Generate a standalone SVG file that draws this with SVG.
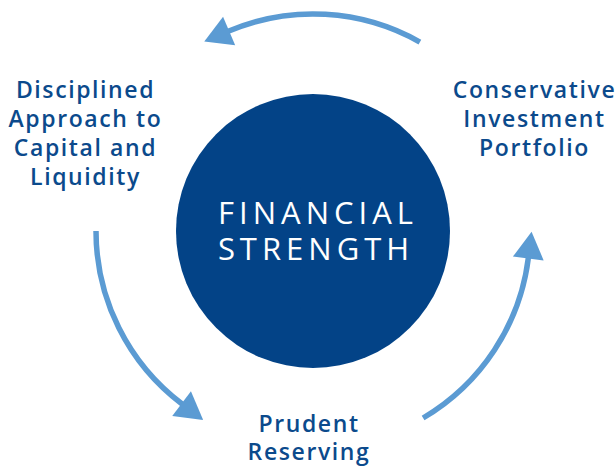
<svg xmlns="http://www.w3.org/2000/svg" width="615" height="466" viewBox="0 0 615 466">
<style>
.lbl{font-family:"Open Sans","Liberation Sans",sans-serif;font-size:23px;font-weight:600;fill:#0b4a8c;text-anchor:middle;letter-spacing:1.6px}
.ctr{font-family:"Open Sans","Liberation Sans",sans-serif;font-size:31px;font-weight:400;fill:#ffffff;text-anchor:middle;letter-spacing:5px}
.arc{fill:none;stroke:#5b9bd3;stroke-width:5.5}
</style>
<defs>
<marker id="head" markerUnits="userSpaceOnUse" markerWidth="30" markerHeight="32" refX="1" refY="15.5" orient="auto" overflow="visible">
<path d="M0,0 L27,15.5 L0,31 Z" fill="#5b9bd3"/>
</marker>
</defs>
<rect width="615" height="466" fill="#ffffff"/>
<g id="connectors">
<path class="arc" d="M423.1,418 A217,217 0 0 0 528.4,257.5" marker-end="url(#head)"/>
<path class="arc" d="M419.9,42.1 A217,217 0 0 0 228.2,31.3" marker-end="url(#head)"/>
<path class="arc" d="M96,231 A217,217 0 0 0 182.4,404.3" marker-end="url(#head)"/>
</g>
<g id="center">
<circle cx="313" cy="231" r="137" fill="#034387"/>
<text class="ctr" x="318" y="224">FINANCIAL</text>
<text class="ctr" x="316" y="260">STRENGTH</text>
</g>
<g id="node-left">
<text class="lbl" x="85.5" y="98">Disciplined</text>
<text class="lbl" x="85.5" y="127">Approach to</text>
<text class="lbl" x="85.5" y="156">Capital and</text>
<text class="lbl" x="85.5" y="185">Liquidity</text>
</g>
<g id="node-right">
<text class="lbl" x="534.5" y="98">Conservative</text>
<text class="lbl" x="534.5" y="127">Investment</text>
<text class="lbl" x="534.5" y="156">Portfolio</text>
</g>
<g id="node-bottom">
<text class="lbl" x="309" y="432">Prudent</text>
<text class="lbl" x="309" y="460">Reserving</text>
</g>
</svg>
